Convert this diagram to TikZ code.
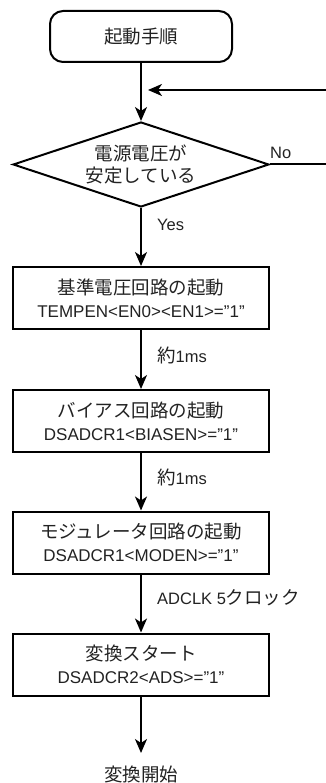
\documentclass[tikz,border=0pt]{standalone}
\usepackage{fontspec}
\setmainfont{Liberation Sans}
\newfontfamily\jpfont{Noto Sans CJK JP}
\usetikzlibrary{shapes.geometric,arrows.meta}
\definecolor{txt}{HTML}{222222}
\newcommand\J[1]{{\fontsize{18.5}{23}\selectfont\jpfont #1}}
\tikzset{
  arr/.style={line width=2pt,-{Stealth[length=14pt,width=12pt,inset=4pt]}},
  ln/.style={line width=2pt},
  procbox/.style={draw,line width=2pt,minimum width=256pt,minimum height=62pt,inner sep=0pt,align=center,text=txt,font=\fontsize{17}{23}\selectfont},
  lbl/.style={anchor=west,inner sep=0pt,text=txt,font=\fontsize{16.5}{20}\selectfont},
}
\begin{document}
\begin{tikzpicture}[x=1pt,y=-1pt]
\useasboundingbox (0,0) rectangle (326,783);
\node[draw,line width=2pt,rounded corners=13pt,minimum width=182pt,minimum height=51pt,inner sep=0pt,text=txt] (start) at (141,36.5) {\J{起動手順}\hspace{11pt}};
\node[draw,diamond,line width=2pt,minimum width=256pt,minimum height=85pt,inner sep=0pt] (dia) at (141,164.5) {};
\node[inner sep=0pt,align=center,text=txt] (diatext) at (141,164) {\J{電源電圧が}\\[4pt]\J{安定している}};
\node[procbox] (b1) at (141,298) {\J{基準電圧回路の起動}\\TEMPEN<EN0><EN1>=”1”};
\node[procbox] (b2) at (141,421) {\J{バイアス回路の起動}\\DSADCR1<BIASEN>=”1”};
\node[procbox] (b3) at (141,542.5) {\J{モジュレータ回路の起動}\\DSADCR1<MODEN>=”1”};
\node[procbox] (b4) at (141,664.5) {\J{変換スタート}\\DSADCR2<ADS>=”1”};
\node[inner sep=0pt,text=txt] (fin) at (141,774) {\J{変換開始}};
\coordinate (finTop) at (141,753);
\coordinate (loopR) at (326,90);
\coordinate (loopE) at (148,90);
\coordinate (noR) at (326,164.5);
\draw[arr] (start.south) -- (dia.north);
\draw[arr] (loopR) -- (loopE);
\draw[ln] (dia.east) -- (noR);
\draw[arr] (dia.south) -- (b1.north);
\draw[arr] (b1.south) -- (b2.north);
\draw[arr] (b2.south) -- (b3.north);
\draw[arr] (b3.south) -- (b4.north);
\draw[arr] (b4.south) -- (finTop);
\node[lbl] (lno) at (270,153) {No};
\node[lbl] (lyes) at (157,225) {Yes};
\node[lbl] (l1) at (157,355) {\J{約}1ms};
\node[lbl] (l2) at (157,477) {\J{約}1ms};
\node[lbl] (l3) at (157,598) {ADCLK 5\J{クロック}};
\end{tikzpicture}
\end{document}
